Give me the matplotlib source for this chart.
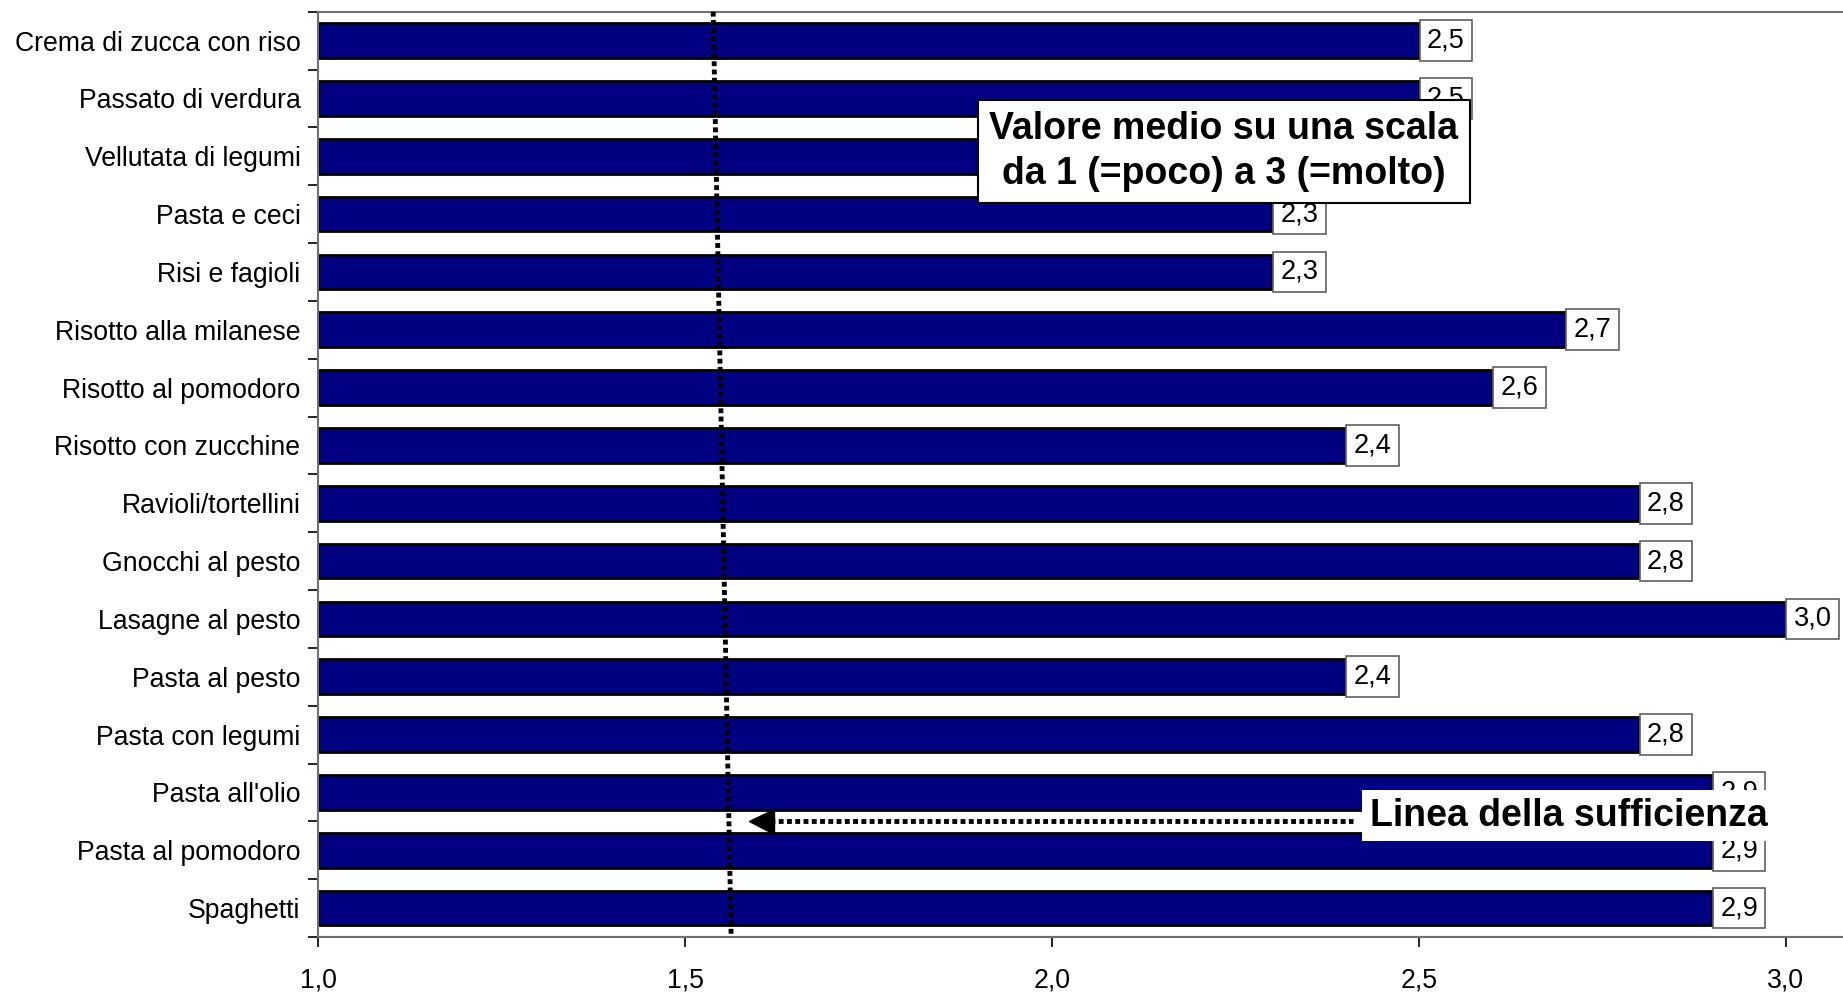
import matplotlib.pyplot as plt
import numpy as np

plt.rcParams['font.family'] = ['Liberation Sans', 'DejaVu Sans']

piatti = ["Crema di zucca con riso", "Passato di verdura", "Vellutata di legumi",
          "Pasta e ceci", "Risi e fagioli", "Risotto alla milanese",
          "Risotto al pomodoro", "Risotto con zucchine", "Ravioli/tortellini",
          "Gnocchi al pesto", "Lasagne al pesto", "Pasta al pesto",
          "Pasta con legumi", "Pasta all'olio", "Pasta al pomodoro", "Spaghetti"]
valori = [2.5, 2.5, 2.4, 2.3, 2.3, 2.7, 2.6, 2.4, 2.8, 2.8, 3.0, 2.4, 2.8, 2.9, 2.9, 2.9]
x_ticks = [1.0, 1.5, 2.0, 2.5, 3.0]

# linea della sufficienza (leggermente inclinata nell'originale)
suff_top = 1.538
suff_bottom = 1.5625

fig = plt.figure(figsize=(18.43, 9.93), dpi=100)
ax = fig.add_axes([0.1728, 0.0564, 0.8272, 0.9318])

y = np.arange(len(piatti))
ax.barh(y, np.array(valori) - 1.0, left=1.0, height=0.6,
        color='#000080', edgecolor='black', linewidth=2, zorder=2)

for yi, v in zip(y, valori):
    ax.annotate(f"{v:.1f}".replace('.', ','), xy=(v, yi), xytext=(8, 0),
                textcoords='offset pixels', ha='left', va='center', fontsize=19.5,
                bbox=dict(boxstyle='square,pad=0.27', fc='white', ec='#606060', lw=1.2),
                zorder=3)

ax.set_xlim(1.0, 3.078)
ax.set_ylim(len(piatti) - 0.5, -0.5)

ax.set_yticks(y)
ax.set_yticklabels(piatti, fontsize=19.2)
ax.set_yticks(np.arange(-0.5, len(piatti)), minor=True)
ax.tick_params(axis='y', which='major', length=0, pad=13)
ax.tick_params(axis='y', which='minor', length=7, width=1.2, direction='out')

ax.set_xticks(x_ticks)
ax.set_xticklabels([f"{t:.1f}".replace('.', ',') for t in x_ticks], fontsize=19.2)
ax.tick_params(axis='x', length=7, width=1.2, pad=15)

for s in ['left', 'bottom', 'top']:
    ax.spines[s].set_color('#707070')
    ax.spines[s].set_linewidth(1.5)
ax.spines['right'].set_visible(False)

# linea verticale tratteggiata
ax.plot([suff_top, suff_bottom], [-0.5, len(piatti) - 0.5], color='black',
        lw=3.5, linestyle=(0, (1, 0.7)), solid_capstyle='butt', zorder=4, clip_on=False)

# freccia verso la linea
y_arrow = 13.5
ax.plot([1.615, 2.41], [y_arrow, y_arrow], color='black', lw=3.5,
        linestyle=(0, (1, 0.7)), zorder=4)
ax.plot(1.603, y_arrow, marker='<', markersize=18, color='black', zorder=4)
ax.text(2.433, y_arrow - 0.1, "Linea della sufficienza", fontsize=27, fontweight='bold',
        ha='left', va='center', zorder=5,
        bbox=dict(boxstyle='square,pad=0.2', fc='white', ec='none'))

ax.text(2.234, 1.92, "Valore medio su una scala\nda 1 (=poco) a 3 (=molto)",
        fontsize=27, fontweight='bold', ha='center', va='center', linespacing=1.3,
        zorder=6, bbox=dict(boxstyle='square,pad=0.3', fc='white', ec='black', lw=1.5))

fig.savefig('out.png', dpi=100)
